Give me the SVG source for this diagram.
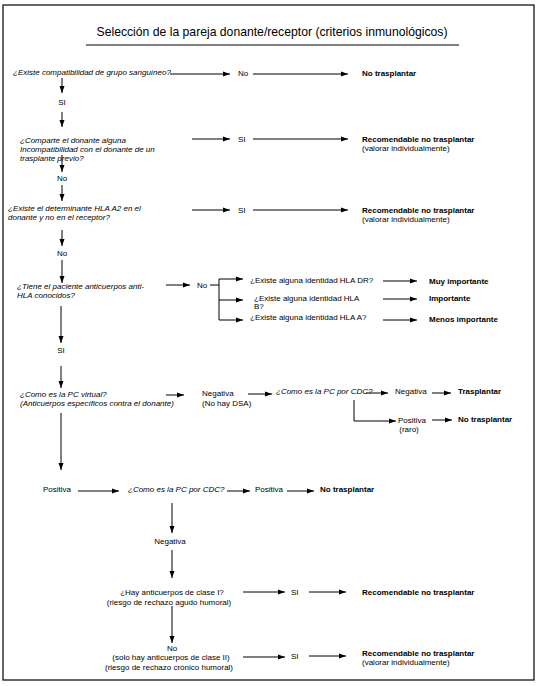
<svg xmlns="http://www.w3.org/2000/svg" width="539" height="686" viewBox="0 0 539 686">
<defs>
<marker id="ah" markerUnits="userSpaceOnUse" markerWidth="8" markerHeight="6" refX="7" refY="3" orient="auto">
<path d="M0,0.5 L7,3 L0,5.5 z" fill="#000"/>
</marker>
<style>
.q{font-family:"Liberation Sans",Arial,sans-serif;font-size:8px;font-style:italic;fill:#000}
.t{font-family:"Liberation Sans",Arial,sans-serif;font-size:8px;fill:#000}
.b{font-family:"Liberation Sans",Arial,sans-serif;font-size:8px;font-weight:bold;fill:#000}
.m{text-anchor:middle}
.ttl{font-family:"Liberation Sans",Arial,sans-serif;font-size:12.2px;fill:#000}
.c line,.c polyline{stroke:#000;stroke-width:1;fill:none}
.a{marker-end:url(#ah)}
</style>
</defs>
<rect x="0" y="0" width="539" height="686" fill="#fff"/>
<rect x="3" y="5" width="531" height="675" fill="none" stroke="#000" stroke-width="1.2"/>
<g id="title">
<text class="ttl m" x="272" y="36">Selección de la pareja donante/receptor (criterios inmunológicos)</text>
<line x1="86" y1="45" x2="459" y2="45" stroke="#000" stroke-width="1"/>
</g>
<g id="q1"><text class="q" x="13" y="75">¿Existe compatibilidad de grupo sanguíneo?</text></g>
<g id="q1-no"><text class="t" x="238" y="76">No</text></g>
<g id="r1"><text class="b" x="362" y="76">No trasplantar</text></g>
<g id="q1-si"><text class="t m" x="62" y="105">SI</text></g>
<g id="q2"><text class="q" x="20" y="143">¿Comparte el donante alguna</text><text class="q" x="20" y="152">Incompatibilidad con el donante de un</text><text class="q" x="20" y="161">trasplante previo?</text></g>
<g id="q2-si"><text class="t" x="238" y="142">SI</text></g>
<g id="r2"><text class="b" x="362" y="142">Recomendable no trasplantar</text><text class="t" x="362" y="151">(valorar individualmente)</text></g>
<g id="q2-no"><text class="t m" x="62" y="181">No</text></g>
<g id="q3"><text class="q" x="8" y="211">¿Existe el determinante HLA A2 en el</text><text class="q" x="8" y="220">donante y no en el receptor?</text></g>
<g id="q3-si"><text class="t" x="238" y="213">SI</text></g>
<g id="r3"><text class="b" x="362" y="213">Recomendable no trasplantar</text><text class="t" x="362" y="222">(valorar individualmente)</text></g>
<g id="q3-no"><text class="t m" x="62" y="256">No</text></g>
<g id="q4"><text class="q" x="17" y="289">¿Tiene el paciente anticuerpos anti-</text><text class="q" x="17" y="298">HLA conocidos?</text></g>
<g id="q4-no"><text class="t" x="197" y="288">No</text></g>
<g id="dr"><text class="t" x="250" y="283">¿Existe alguna identidad HLA DR?</text></g>
<g id="hlab"><text class="t" x="254" y="301">¿Existe alguna identidad HLA</text><text class="t" x="254" y="309">B?</text></g>
<g id="hlaa"><text class="t" x="250" y="320">¿Existe alguna identidad HLA A?</text></g>
<g id="muy"><text class="b" x="429" y="284">Muy importante</text></g>
<g id="imp"><text class="b" x="429" y="301">Importante</text></g>
<g id="menos"><text class="b" x="429" y="322">Menos importante</text></g>
<g id="q4-si"><text class="t m" x="61" y="353">SI</text></g>
<g id="q5"><text class="q" x="20" y="397">¿Como es la PC virtual?</text><text class="q" x="20" y="406">(Anticuerpos específicos contra el donante)</text></g>
<g id="neg1"><text class="t" x="202" y="396">Negativa</text><text class="t" x="202" y="406">(No hay DSA)</text></g>
<g id="q6"><text class="q" x="276" y="394">¿Como es la PC por CDC?</text></g>
<g id="neg2"><text class="t" x="395" y="394">Negativa</text></g>
<g id="tras"><text class="b" x="458" y="394">Trasplantar</text></g>
<g id="pos1"><text class="t" x="398" y="423">Positiva</text><text class="t m" x="409" y="432">(raro)</text></g>
<g id="r6"><text class="b" x="458" y="422">No trasplantar</text></g>
<g id="pos2"><text class="t" x="43" y="492">Positiva</text></g>
<g id="q7"><text class="q" x="128" y="492">¿Como es la PC por CDC?</text></g>
<g id="pos3"><text class="t" x="255" y="492">Positiva</text></g>
<g id="r7"><text class="b" x="320" y="492">No trasplantar</text></g>
<g id="neg3"><text class="t m" x="170" y="544">Negativa</text></g>
<g id="q8"><text class="t m" x="172" y="595">¿Hay anticuerpos de clase I?</text><text class="t m" x="169" y="605">(riesgo de rechazo agudo humoral)</text></g>
<g id="q8-si"><text class="t" x="291" y="595">SI</text></g>
<g id="r8"><text class="b" x="362" y="595">Recomendable no trasplantar</text></g>
<g id="q9"><text class="t m" x="172" y="651">No</text><text class="t m" x="171" y="660">(solo hay anticuerpos de clase II)</text><text class="t m" x="169" y="670">(riesgo de rechazo crónico humoral)</text></g>
<g id="q9-si"><text class="t" x="291" y="659">SI</text></g>
<g id="r9"><text class="b" x="362" y="656">Recomendable no trasplantar</text><text class="t" x="362" y="665">(valorar individualmente)</text></g>
<g id="connectors" class="c">
<line class="a" x1="170" y1="74" x2="230" y2="74"/>
<line class="a" x1="253" y1="74" x2="348" y2="74"/>
<line class="a" x1="62" y1="78" x2="62" y2="93"/>
<line class="a" x1="62" y1="112" x2="62" y2="127"/>
<line class="a" x1="192" y1="139" x2="230" y2="139"/>
<line class="a" x1="253" y1="139" x2="348" y2="139"/>
<line class="a" x1="62" y1="155" x2="62" y2="172"/>
<line class="a" x1="62" y1="185" x2="62" y2="201"/>
<line class="a" x1="192" y1="210" x2="230" y2="210"/>
<line class="a" x1="253" y1="210" x2="348" y2="210"/>
<line class="a" x1="62" y1="230" x2="62" y2="246"/>
<line class="a" x1="62" y1="260" x2="62" y2="283"/>
<line class="a" x1="166" y1="285" x2="190" y2="285"/>
<line x1="210" y1="285" x2="219" y2="285"/>
<line x1="219" y1="279" x2="219" y2="320"/>
<line class="a" x1="219" y1="279" x2="243" y2="279"/>
<line class="a" x1="219" y1="300" x2="243" y2="300"/>
<line class="a" x1="219" y1="320" x2="243" y2="320"/>
<line class="a" x1="383" y1="281" x2="417" y2="281"/>
<line class="a" x1="383" y1="299" x2="417" y2="299"/>
<line class="a" x1="383" y1="320" x2="417" y2="320"/>
<line class="a" x1="61" y1="306" x2="61" y2="343"/>
<line class="a" x1="61" y1="366" x2="61" y2="388"/>
<line class="a" x1="166" y1="395" x2="184" y2="395"/>
<line class="a" x1="248" y1="394" x2="272" y2="394"/>
<line class="a" x1="366" y1="393" x2="388" y2="393"/>
<line class="a" x1="432" y1="393" x2="451" y2="393"/>
<polyline class="a" points="354,400 354,421 396,421"/>
<line class="a" x1="432" y1="420" x2="452" y2="420"/>
<line class="a" x1="61" y1="413" x2="61" y2="470"/>
<line class="a" x1="78" y1="491" x2="119" y2="491"/>
<line class="a" x1="227" y1="491" x2="250" y2="491"/>
<line class="a" x1="287" y1="491" x2="314" y2="491"/>
<line class="a" x1="172" y1="503" x2="172" y2="533"/>
<line class="a" x1="172" y1="550" x2="172" y2="578"/>
<line class="a" x1="243" y1="592" x2="285" y2="592"/>
<line class="a" x1="309" y1="592" x2="346" y2="592"/>
<line class="a" x1="172" y1="606" x2="172" y2="643"/>
<line class="a" x1="243" y1="657" x2="285" y2="657"/>
<line class="a" x1="309" y1="656" x2="346" y2="656"/>
</g>
</svg>
